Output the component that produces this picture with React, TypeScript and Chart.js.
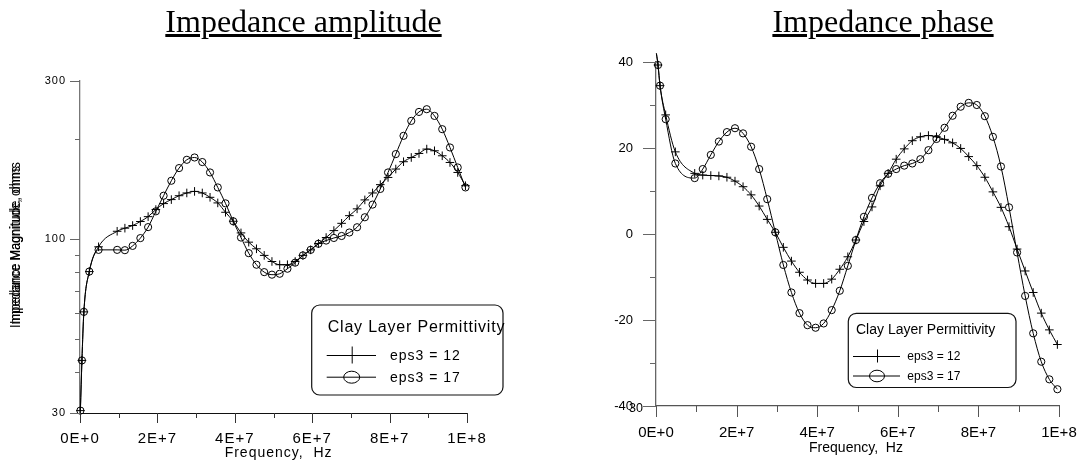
import React, { useEffect, useRef } from "react";
import { Chart, registerables } from "chart.js";

Chart.register(...registerables);

// ---------------- data ----------------
const freqHz = [
  1e5, 5e5, 1e6, 2.4e6, 4.8e6,
  9.6e6, 11.6e6, 13.6e6, 15.6e6, 17.6e6, 19.6e6, 21.6e6, 23.6e6, 25.6e6, 27.6e6,
  29.6e6, 31.6e6, 33.6e6, 35.6e6, 37.6e6, 39.6e6, 41.6e6, 43.6e6, 45.6e6, 47.6e6,
  49.6e6, 51.6e6, 53.6e6, 55.6e6, 57.6e6, 59.6e6, 61.6e6, 63.6e6, 65.6e6, 67.6e6,
  69.6e6, 71.6e6, 73.6e6, 75.6e6, 77.6e6, 79.6e6, 81.6e6, 83.6e6, 85.6e6, 87.6e6,
  89.6e6, 91.6e6, 93.6e6, 95.6e6, 97.6e6, 99.6e6,
];

const ampEps12 = [
  30.5, 43.2, 60.5, 80, 95,
  105.8, 108.1, 110.1, 113.2, 117.1, 123, 128.2, 131.8, 135.4, 138,
  139.5, 138, 133.9, 128.8, 120.7, 113.4, 104.6, 98.1, 93.7, 89.5,
  85.8, 83.9, 83.9, 85.8, 89.5, 93, 97.2, 101.3, 106.3, 111.8,
  117.9, 123.6, 131.5, 138, 146.2, 153.7, 162.9, 171.4, 176.5, 181.5,
  187.1, 184.9, 178.6, 170.5, 159.1, 145.1,
];

const ampEps17 = [
  30.5, 43.2, 60.5, 80, 93,
  93, 92.8, 95.6, 100.9, 108.9, 121.5, 135.4, 150.2, 164, 173.7,
  176.5, 171, 159.1, 143.4, 128.4, 113.4, 101.3, 90.9, 83.9, 79.7,
  78.3, 78.8, 81.6, 85.1, 89.5, 93, 97, 99.2, 101, 102.4,
  104.9, 108.8, 116.6, 127.3, 141.9, 159.1, 180.7, 205.1, 227.5, 242.1,
  246.7, 235.5, 214.8, 189.2, 164.7, 143.4,
];

const phaseEps12 = [
  42.0, 39.3, 34.5, 27.7, 19.1,
  14.1, 13.7, 13.6, 13.5, 13.2, 12.3, 11.0, 9.1, 6.5, 3.4,
  0.4, -3.1, -6.3, -8.9, -10.7, -11.5, -11.5, -10.5, -8.2, -5.3,
  -1.4, 2.9, 6.3, 11.2, 14.1, 17.4, 19.8, 21.7, 22.6, 22.9,
  22.6, 22.0, 21.2, 19.9, 18.0, 15.9, 13.2, 9.8, 6.2, 1.7,
  -3.5, -8.6, -13.6, -18.4, -22.3, -25.7,
];

const phaseEps17 = [
  42.0, 39.3, 34.5, 26.7, 16.4,
  13.0, 15.1, 18.4, 21.5, 23.7, 24.6, 23.4, 20.3, 15.1, 8.1,
  0.4, -7.2, -13.6, -18.4, -21.2, -21.8, -20.8, -17.7, -13.2, -7.4,
  -1.4, 4.0, 8.4, 11.8, 14.0, 15.1, 15.9, 16.4, 17.4, 19.5,
  22.1, 24.7, 27.5, 29.6, 30.5, 30.0, 27.4, 22.6, 15.7, 6.2,
  -4.3, -14.4, -23.1, -29.7, -33.8, -36.1,
];

const seriesLabels = ["eps3 = 12", "eps3 = 17"];
const legendTitle = "Clay Layer Permittivity";
const xTitle = "Frequency,  Hz";
const ampYTitle = "Impedance Magnitude, ohms";
const ampTitle = "Impedance amplitude";
const phaseTitle = "Impedance phase";

const xMajorTicks = [0, 2e7, 4e7, 6e7, 8e7, 1e8];
const xTickLabels = ["0E+0", "2E+7", "4E+7", "6E+7", "8E+7", "1E+8"];
const xMinorTicks = [1e7, 3e7, 5e7, 7e7, 9e7];

const ampMajorTicks = [30, 100, 300];
const ampTickLabels = ["30", "100", "300"];
const ampMinorTicks = [40, 50, 60, 70, 80, 90, 200];

const phaseMajorTicks = [-40, -20, 0, 20, 40];
const phaseTickLabels = ["-40", "-20", "0", "20", "40"];
const phaseMinorTicks = [-30, -10, 10, 30];
const phaseStrayLabel = "30";

// ---------------- helpers ----------------
const SANS = '"Liberation Sans", Arial, sans-serif';
const SERIF = '"Liberation Serif", "Times New Roman", serif';

function labelMap(values: number[], labels: string[]) {
  const m = new Map<number, string>();
  values.forEach((v, i) => m.set(v, labels[i]));
  return m;
}

function sortedTicks(a: number[], b: number[]) {
  return [...a, ...b].sort((p, q) => p - q).map((v) => ({ value: v }));
}

function makeDatasets(y12: number[], y17: number[]) {
  const base: any = {
    borderColor: "#000",
    borderWidth: 1,
    pointBorderColor: "#000",
    pointBackgroundColor: "rgba(0,0,0,0)",
    backgroundColor: "rgba(0,0,0,0)",
    pointBorderWidth: 1,
    cubicInterpolationMode: "monotone",
    clip: false,
    fill: false,
  };
  return [
    { ...base, label: seriesLabels[0], data: freqHz.map((f, i) => ({ x: f, y: y12[i] })), pointStyle: "cross", pointRadius: 4.3 },
    { ...base, label: seriesLabels[1], data: freqHz.map((f, i) => ({ x: f, y: y17[i] })), pointStyle: "circle", pointRadius: 3.6 },
  ];
}

function drawTicks(chart: any, axisId: string, major: number[], minor: number[], majorLen: number, minorLen: number, color: string) {
  const s = chart.scales[axisId];
  const ctx = chart.ctx;
  const area = chart.chartArea;
  ctx.save();
  ctx.strokeStyle = color;
  ctx.lineWidth = 1;
  ctx.beginPath();
  const one = (v: number, len: number) => {
    const p = Math.round(s.getPixelForValue(v)) + 0.5;
    if (s.isHorizontal()) {
      ctx.moveTo(p, area.bottom);
      ctx.lineTo(p, area.bottom + len);
    } else {
      ctx.moveTo(area.left, p);
      ctx.lineTo(area.left - len, p);
    }
  };
  major.forEach((v) => one(v, majorLen));
  minor.forEach((v) => one(v, minorLen));
  ctx.stroke();
  ctx.restore();
}

type LegendSpec = {
  x: number; y: number; w: number; h: number; r: number;
  titleX: number; titleBase: number; titleFont: string; titleLs: string;
  rows: number[]; lineX0: number; lineX1: number; markX: number;
  crossHalf: number; ellRx: number; ellRy: number;
  textX: number; textFont: string; textLs: string; textDy: number;
};

function drawLegend(ctx: CanvasRenderingContext2D, L: LegendSpec) {
  ctx.save();
  (ctx as any).letterSpacing = "0px";
  ctx.beginPath();
  (ctx as any).roundRect(L.x, L.y, L.w, L.h, L.r);
  ctx.fillStyle = "#fff";
  ctx.fill();
  ctx.lineWidth = 1.2;
  ctx.strokeStyle = "#111";
  ctx.stroke();

  ctx.fillStyle = "#000";
  ctx.textAlign = "left";
  ctx.textBaseline = "alphabetic";
  ctx.font = L.titleFont;
  (ctx as any).letterSpacing = L.titleLs;
  ctx.fillText(legendTitle, L.titleX, L.titleBase);

  ctx.lineWidth = 1;
  ctx.strokeStyle = "#000";
  L.rows.forEach((ry, i) => {
    ctx.beginPath();
    ctx.moveTo(L.lineX0, ry + 0.5);
    ctx.lineTo(L.lineX1, ry + 0.5);
    ctx.stroke();
    ctx.beginPath();
    if (i === 0) {
      ctx.moveTo(L.markX + 0.5, ry - L.crossHalf);
      ctx.lineTo(L.markX + 0.5, ry + L.crossHalf);
    } else {
      ctx.ellipse(L.markX, ry + 0.5, L.ellRx, L.ellRy, 0, 0, Math.PI * 2);
    }
    ctx.stroke();
    ctx.font = L.textFont;
    (ctx as any).letterSpacing = L.textLs;
    ctx.fillText(seriesLabels[i], L.textX, ry + L.textDy);
  });
  ctx.restore();
}

// ---------------- chart configs ----------------
function ampConfig(): any {
  const xl = labelMap(xMajorTicks, xTickLabels);
  const yl = labelMap(ampMajorTicks, ampTickLabels);
  const extras = {
    id: "ampExtras",
    beforeDraw(chart: any) {
      chart.ctx.letterSpacing = "1px";
    },
    afterDraw(chart: any) {
      const ctx = chart.ctx as CanvasRenderingContext2D;
      drawTicks(chart, "x", xMajorTicks, xMinorTicks, 10, 5, "#333");
      drawTicks(chart, "y", ampMajorTicks, ampMinorTicks, 10, 5, "#666");
      // x title
      ctx.save();
      (ctx as any).letterSpacing = "1px";
      ctx.fillStyle = "#000";
      ctx.font = `14px ${SANS}`;
      ctx.textAlign = "center";
      ctx.textBaseline = "alphabetic";
      ctx.fillText(xTitle, 278.6, 456.5);
      ctx.restore();
      // y title (double-struck as in the source)
      ctx.save();
      (ctx as any).letterSpacing = "0px";
      ctx.fillStyle = "#000";
      ctx.translate(19.5, 245);
      ctx.rotate(-Math.PI / 2);
      ctx.font = `14px ${SANS}`;
      ctx.textAlign = "center";
      ctx.textBaseline = "alphabetic";
      const w = ctx.measureText(ampYTitle).width;
      [158, 166].forEach((target) => {
        ctx.save();
        ctx.scale(target / w, 1);
        ctx.fillText(ampYTitle, 0, 0);
        ctx.restore();
      });
      ctx.restore();
      drawLegend(ctx, {
        x: 311.7, y: 305, w: 191.3, h: 90, r: 8,
        titleX: 327.7, titleBase: 332.4, titleFont: `16px ${SANS}`, titleLs: "0.8px",
        rows: [355, 376.7], lineX0: 326.7, lineX1: 376, markX: 351.7,
        crossHalf: 8.5, ellRx: 8, ellRy: 6,
        textX: 390, textFont: `14px ${SANS}`, textLs: "1px", textDy: 5,
      });
    },
  };
  return {
    type: "line",
    data: { datasets: makeDatasets(ampEps12, ampEps17) },
    plugins: [extras],
    options: {
      animation: false,
      responsive: false,
      maintainAspectRatio: false,
      layout: { padding: { left: 0, top: 81, right: 73, bottom: 0 } },
      plugins: { legend: { display: false }, tooltip: { enabled: false }, title: { display: false } },
      scales: {
        x: {
          type: "linear", min: 0, max: 1e8, position: "bottom",
          afterBuildTicks: (s: any) => { s.ticks = sortedTicks(xMajorTicks, xMinorTicks); },
          afterFit: (s: any) => { s.height = 53; s.paddingLeft = 0; s.paddingRight = 0; },
          grid: { display: false, drawTicks: false },
          border: { display: true, color: "#111", width: 1 },
          ticks: {
            autoSkip: false, maxRotation: 0, minRotation: 0, padding: 17, color: "#000",
            font: { family: SANS, size: 15 },
            callback: (v: number) => xl.get(v) ?? "",
          },
        },
        y: {
          type: "logarithmic", min: 30, max: 300, position: "left",
          afterBuildTicks: (s: any) => { s.ticks = sortedTicks(ampMajorTicks, ampMinorTicks); },
          afterFit: (s: any) => { s.width = 80; s.paddingTop = 0; s.paddingBottom = 0; },
          grid: { display: false, drawTicks: false },
          border: { display: true, color: "#777", width: 1.3 },
          ticks: {
            autoSkip: false, padding: 14, color: "#000",
            font: { family: SANS, size: 11 },
            callback: (v: number) => yl.get(v) ?? "",
          },
        },
      },
    },
  };
}

function phaseConfig(): any {
  const xl = labelMap(xMajorTicks, xTickLabels);
  const yl = labelMap(phaseMajorTicks, phaseTickLabels);
  const OX = 540;
  const extras = {
    id: "phaseExtras",
    afterDraw(chart: any) {
      const ctx = chart.ctx as CanvasRenderingContext2D;
      drawTicks(chart, "x", xMajorTicks, xMinorTicks, 11, 6, "#555");
      drawTicks(chart, "y", phaseMajorTicks, phaseMinorTicks, 13, 6, "#666");
      ctx.save();
      (ctx as any).letterSpacing = "0px";
      ctx.fillStyle = "#000";
      ctx.font = `14px ${SANS}`;
      ctx.textAlign = "center";
      ctx.textBaseline = "alphabetic";
      ctx.fillText(xTitle, 856 - OX, 451.5);
      ctx.font = `12.5px ${SANS}`;
      ctx.textAlign = "right";
      ctx.textBaseline = "middle";
      ctx.fillText(phaseStrayLabel, 643 - OX, 409);
      ctx.restore();
      drawLegend(ctx, {
        x: 848.3 - OX, y: 313.3, w: 167.7, h: 74.2, r: 8,
        titleX: 856 - OX, titleBase: 334, titleFont: `14px ${SANS}`, titleLs: "0px",
        rows: [356, 375.5], lineX0: 853 - OX, lineX1: 900 - OX, markX: 877 - OX,
        crossHalf: 6.5, ellRx: 7.5, ellRy: 5.8,
        textX: 907.3 - OX, textFont: `12px ${SANS}`, textLs: "0px", textDy: 4.3,
      });
    },
  };
  return {
    type: "line",
    data: { datasets: makeDatasets(phaseEps12, phaseEps17) },
    plugins: [extras],
    options: {
      animation: false,
      responsive: false,
      maintainAspectRatio: false,
      layout: { padding: { left: 0, top: 62, right: 24, bottom: 0 } },
      plugins: { legend: { display: false }, tooltip: { enabled: false }, title: { display: false } },
      scales: {
        x: {
          type: "linear", min: 0, max: 1e8, position: "bottom",
          afterBuildTicks: (s: any) => { s.ticks = sortedTicks(xMajorTicks, xMinorTicks); },
          afterFit: (s: any) => { s.height = 60; s.paddingLeft = 0; s.paddingRight = 0; },
          grid: { display: false, drawTicks: false },
          border: { display: true, color: "#555", width: 1.3 },
          ticks: {
            autoSkip: false, maxRotation: 0, minRotation: 0, padding: 18, color: "#000",
            font: { family: SANS, size: 15 },
            callback: (v: number) => xl.get(v) ?? "",
          },
        },
        y: {
          type: "linear", min: -40, max: 40, position: "left",
          afterBuildTicks: (s: any) => { s.ticks = sortedTicks(phaseMajorTicks, phaseMinorTicks); },
          afterFit: (s: any) => { s.width = 116; s.paddingTop = 0; s.paddingBottom = 0; },
          grid: { display: false, drawTicks: false },
          border: { display: true, color: "#666", width: 1.3 },
          ticks: {
            autoSkip: false, padding: 23, color: "#000",
            font: { family: SANS, size: 13 },
            callback: (v: number) => yl.get(v) ?? "",
          },
        },
      },
    },
  };
}

// ---------------- component ----------------
const titleStyle = (left: number, width: number): React.CSSProperties => ({
  position: "absolute",
  left,
  width,
  top: 5,
  textAlign: "center",
  fontFamily: SERIF,
  fontSize: 32,
  lineHeight: "32px",
  textDecoration: "underline",
  color: "#000",
  whiteSpace: "nowrap",
  zIndex: 2,
});

export default function App() {
  const leftRef = useRef<HTMLCanvasElement>(null);
  const rightRef = useRef<HTMLCanvasElement>(null);

  useEffect(() => {
    const c1 = new Chart(leftRef.current as HTMLCanvasElement, ampConfig());
    const c2 = new Chart(rightRef.current as HTMLCanvasElement, phaseConfig());
    return () => {
      c1.destroy();
      c2.destroy();
    };
  }, []);

  return (
    <div style={{ position: "absolute", left: 0, top: 0, width: 1083, height: 466, background: "#fff", overflow: "hidden" }}>
      <canvas ref={leftRef} width={540} height={466} style={{ position: "absolute", left: 0, top: 0, width: 540, height: 466 }} />
      <canvas ref={rightRef} width={543} height={466} style={{ position: "absolute", left: 540, top: 0, width: 543, height: 466 }} />
      <div style={titleStyle(0, 607)}>{ampTitle}</div>
      <div style={titleStyle(683, 400)}>{phaseTitle}</div>
    </div>
  );
}
